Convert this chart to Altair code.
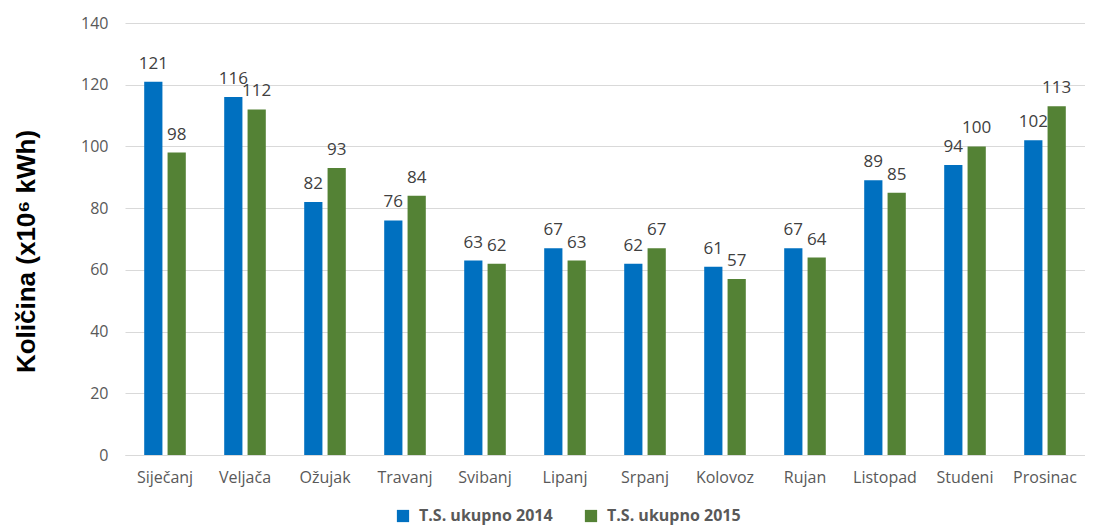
import altair as alt
import pandas as pd

months = ["Siječanj", "Veljača", "Ožujak", "Travanj", "Svibanj", "Lipanj",
          "Srpanj", "Kolovoz", "Rujan", "Listopad", "Studeni", "Prosinac"]
series_names = ["T.S. ukupno 2014", "T.S. ukupno 2015"]
values_2014 = [121, 116, 82, 76, 63, 67, 62, 61, 67, 89, 94, 102]
values_2015 = [98, 112, 93, 84, 62, 63, 67, 57, 64, 85, 100, 113]
colors = ["#0070C0", "#548235"]

rows = []
for m, a, b in zip(months, values_2014, values_2015):
    rows.append({"month": m, "series": series_names[0], "value": a})
    rows.append({"month": m, "series": series_names[1], "value": b})
df = pd.DataFrame(rows)

font = "Open Sans"

x = alt.X("month:N", sort=months, title=None,
          scale=alt.Scale(paddingInner=0.48, paddingOuter=0.24),
          axis=alt.Axis(labelAngle=0, labelFont=font, labelFontSize=16,
                        labelColor="#595959", ticks=False, domain=True,
                        domainColor="#D9D9D9", labelPadding=14))
xo = alt.XOffset("series:N", sort=series_names,
                 scale=alt.Scale(paddingInner=0.22, paddingOuter=0))

base = alt.Chart(df)

bars = base.mark_bar().encode(
    x=x,
    xOffset=xo,
    y=alt.Y("value:Q", title="Količina (x10⁶ kWh)",
            scale=alt.Scale(domain=[0, 140], nice=False),
            axis=alt.Axis(values=[0, 20, 40, 60, 80, 100, 120, 140],
                          grid=True, gridColor="#D9D9D9", domain=False,
                          ticks=False, labelFont=font, labelFontSize=16,
                          labelColor="#595959", labelPadding=17,
                          titleFont="Liberation Sans", titleFontSize=26,
                          titleFontWeight="bold", titleColor="#000000",
                          titlePadding=41, titleY=228)),
    color=alt.Color("series:N", sort=series_names,
                    scale=alt.Scale(domain=series_names, range=colors),
                    legend=alt.Legend(title=None, orient="none",
                                      direction="horizontal",
                                      legendX=270, legendY=485,
                                      symbolType="square", symbolSize=150,
                                      symbolStrokeWidth=0,
                                      labelFont=font, labelFontSize=16,
                                      labelFontWeight="bold",
                                      labelColor="#595959",
                                      columnPadding=30, labelOffset=8)),
)

labels = base.mark_text(dy=-13, baseline="alphabetic", font=font, fontSize=17,
                        color="#404040").encode(
    x=x,
    xOffset=xo,
    y=alt.Y("value:Q"),
    text=alt.Text("value:Q"),
)

chart = (bars + labels).properties(
    width=960, height=432,
    padding={"left": 5, "top": 7, "right": 0, "bottom": 4},
).configure_view(stroke=None)

chart.save("out.html", embed_options={"renderer": "svg", "actions": False})
